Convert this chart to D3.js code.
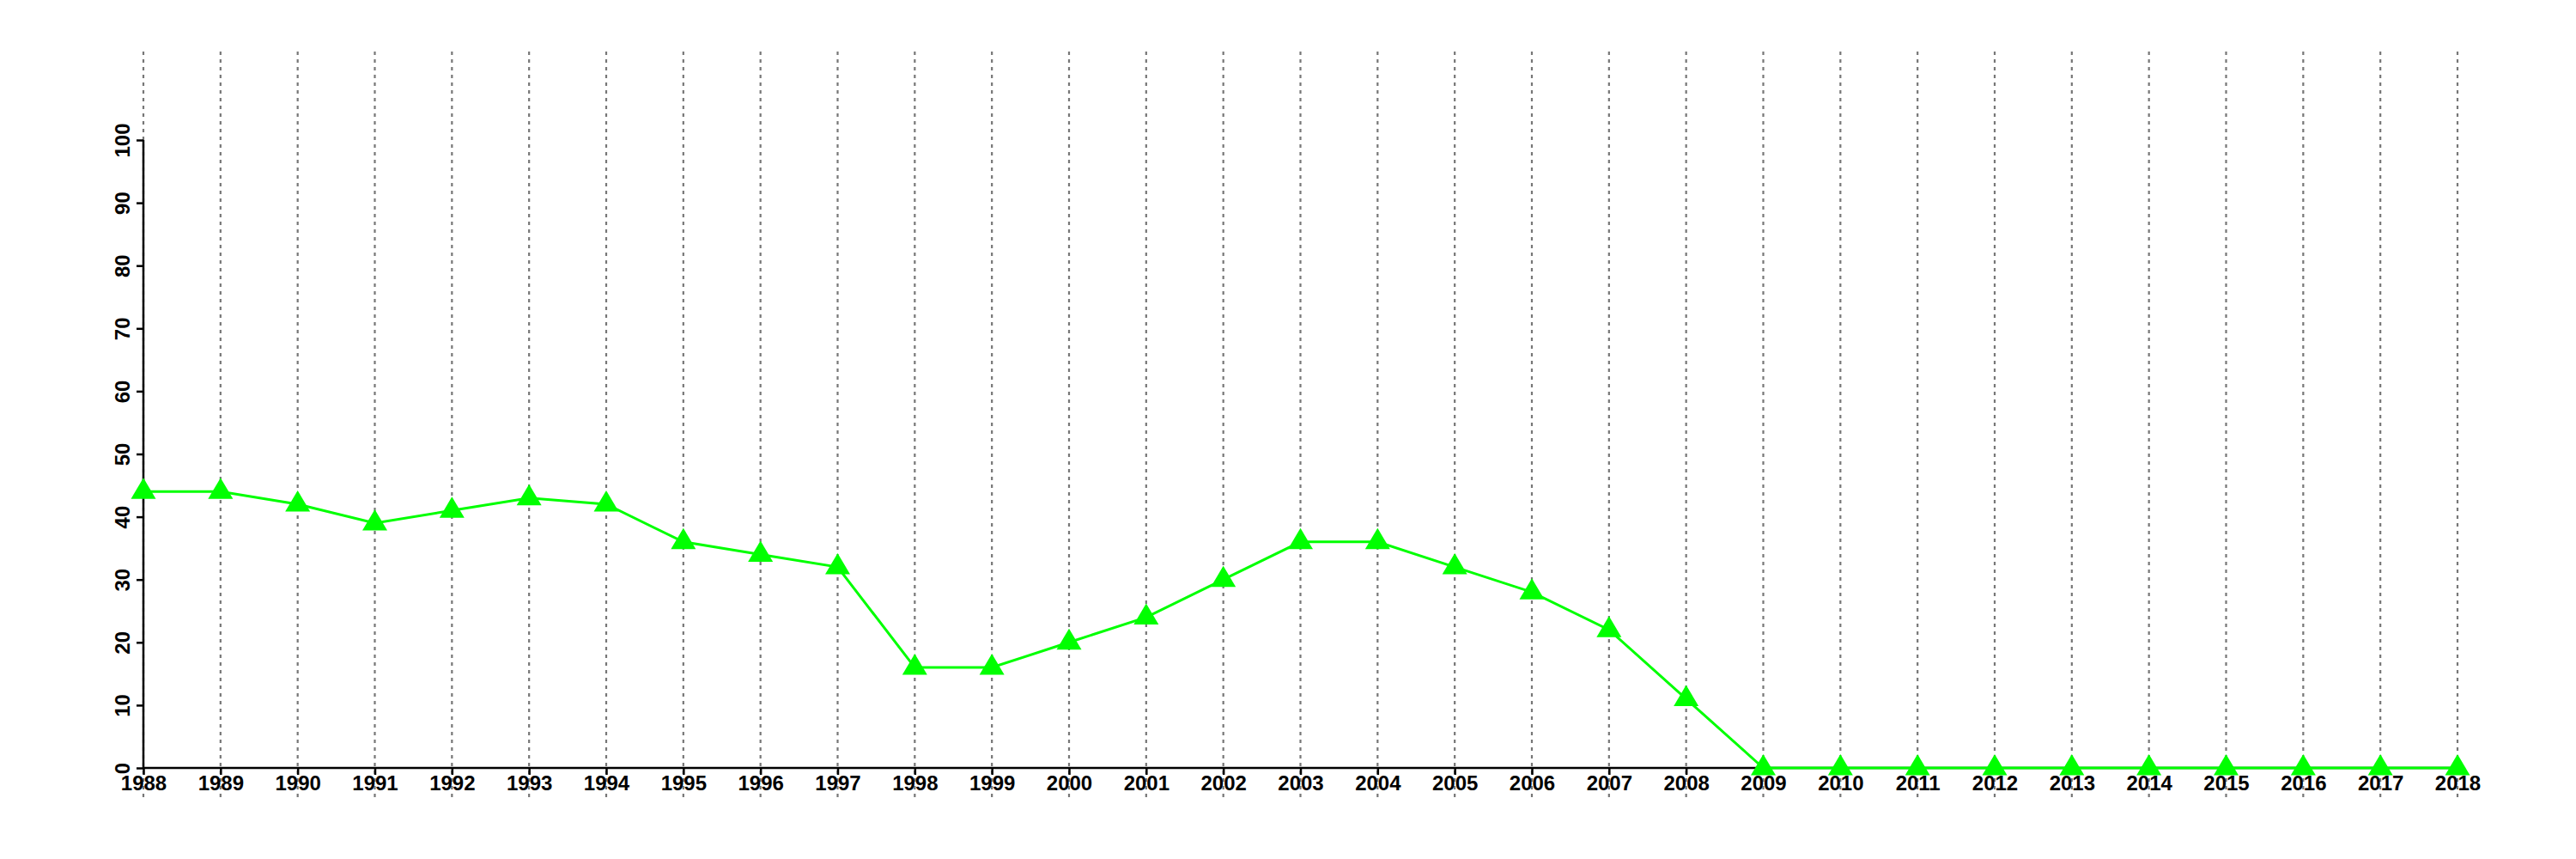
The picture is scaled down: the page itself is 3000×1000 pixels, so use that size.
<!DOCTYPE html>
<html><head><meta charset="utf-8">
<script src="https://cdn.jsdelivr.net/npm/d3@7"></script>
<style>html,body{margin:0;padding:0;background:#fff;}svg{display:block;}</style>
</head><body>
<script>
const years = [1988,1989,1990,1991,1992,1993,1994,1995,1996,1997,1998,1999,2000,2001,2002,2003,2004,2005,2006,2007,2008,2009,2010,2011,2012,2013,2014,2015,2016,2017,2018];
const values = [44,44,42,39,41,43,42,36,34,32,16,16,20,24,30,36,36,32,28,22,11,0,0,0,0,0,0,0,0,0,0];
const yTicks = [0,10,20,30,40,50,60,70,80,90,100];

const W = 3000, H = 1000;
const svg = d3.select("body").append("svg").attr("width", W).attr("height", H);
const x = d3.scaleLinear().domain([1988, 2018]).range([167, 2862]);
const y = d3.scaleLinear().domain([0, 100]).range([894, 163]);
const font = "'Liberation Sans', Arial, sans-serif";

// vertical dotted grid
svg.append("g").selectAll("line").data(years).join("line")
  .attr("x1", d => x(d)).attr("x2", d => x(d))
  .attr("y1", 60).attr("y2", 928)
  .attr("stroke", "#777").attr("stroke-width", 2.2)
  .attr("stroke-dasharray", "4,5");

// x axis
const xAxis = d3.axisBottom(x).tickValues(years).tickFormat(d3.format("d")).tickSize(8).tickPadding(3);
const gx = svg.append("g").attr("transform", `translate(0,${y(0)})`).call(xAxis);
gx.select(".domain").attr("stroke", "#000").attr("stroke-width", 2.5).attr("d", `M${x(1988)},0H${x(2018)}`);
gx.selectAll(".tick line").attr("stroke", "#000").attr("stroke-width", 2.5);
gx.selectAll(".tick text").attr("font-family", font).attr("font-weight", "bold").attr("font-size", 24).attr("fill", "#000")
  .attr("dy", null).attr("y", 26);

// y axis
const yAxis = d3.axisLeft(y).tickValues(yTicks).tickSize(8).tickPadding(0);
const gy = svg.append("g").attr("transform", `translate(${x(1988)},0)`).call(yAxis);
gy.select(".domain").attr("stroke", "#000").attr("stroke-width", 2.5).attr("d", `M0,${y(0)}V${y(100)}`);
gy.selectAll(".tick line").attr("stroke", "#000").attr("stroke-width", 2.5);
gy.selectAll(".tick text").attr("font-family", font).attr("font-weight", "bold").attr("font-size", 24).attr("fill", "#000")
  .attr("x", null).attr("dy", null).attr("text-anchor", "middle")
  .attr("transform", "translate(-16,0) rotate(-90)");

// line
const pts = years.map((yr, i) => [yr, values[i]]);
svg.append("path").datum(pts)
  .attr("fill", "none").attr("stroke", "#00ff00").attr("stroke-width", 3)
  .attr("d", d3.line().x(d => x(d[0])).y(d => y(d[1])));

// triangle markers
svg.append("g").selectAll("path").data(pts).join("path")
  .attr("transform", d => `translate(${x(d[0])},${y(d[1])})`)
  .attr("d", "M0,-16L14.5,8.5L-14.5,8.5Z")
  .attr("fill", "#00ff00");
</script>
</body></html>
